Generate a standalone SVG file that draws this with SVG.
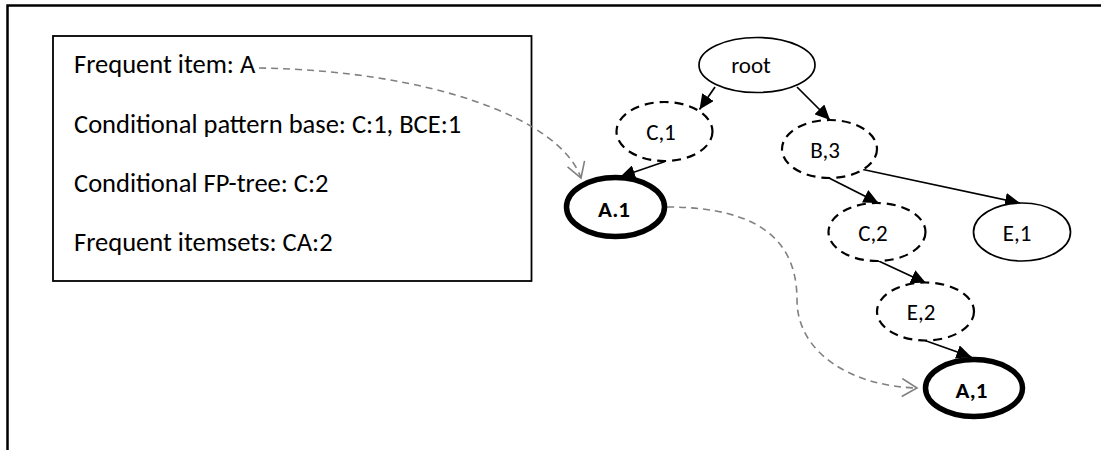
<svg xmlns="http://www.w3.org/2000/svg" width="1101" height="450" viewBox="0 0 1101 450">
<style>
text{font-family:"Carlito","Liberation Sans",Arial,sans-serif;fill:#000}
.info{font-size:26.5px}
.lbl{font-size:23px;text-anchor:middle}
.bold{font-weight:bold}
.nd{fill:#fff;stroke:#000;stroke-width:1.7}
.dash{stroke-width:2.2;stroke-dasharray:9 6}
.thick{stroke-width:5.5}
.edge{fill:none;stroke:#000;stroke-width:1.7;marker-end:url(#ah)}
.link{fill:none;stroke:#808080;stroke-width:1.6;stroke-dasharray:7 5;marker-end:url(#oh)}
</style>
<defs>
<marker id="ah" markerUnits="userSpaceOnUse" markerWidth="16" markerHeight="14" refX="15" refY="7" orient="auto">
<path d="M0,0 L15,7 L0,14 Z" fill="#000"/>
</marker>
<marker id="oh" markerUnits="userSpaceOnUse" markerWidth="18" markerHeight="20" refX="16" refY="10" orient="auto">
<path d="M1,1 L16,10 L1,19" fill="none" stroke="#808080" stroke-width="1.6"/>
</marker>
</defs>
<rect width="1101" height="450" fill="#fff"/>
<path d="M7.5,450 L7.5,5.5 L1101,5.5" fill="none" stroke="#000" stroke-width="2.5"/>
<g id="info">
<rect x="53" y="36" width="478.5" height="245" fill="#fff" stroke="#000" stroke-width="1.8"/>
<text class="info" x="74" y="73">Frequent item: A</text>
<text class="info" x="74" y="132.5">Conditional pattern base: C:1, BCE:1</text>
<text class="info" x="74" y="192">Conditional FP-tree: C:2</text>
<text class="info" x="74" y="251">Frequent itemsets: CA:2</text>
</g>
<g id="connectors">
<path class="edge" d="M715,87 L699.5,109.5"/>
<path class="edge" d="M797,87 L830,120"/>
<path class="edge" d="M665,161.5 L620,177"/>
<path class="edge" d="M828,177.5 L878.5,203"/>
<path class="edge" d="M863,169.5 L1020,203"/>
<path class="edge" d="M876.5,260 L926,283"/>
<path class="edge" d="M925,340.5 L971.5,357"/>
<path class="link" d="M259,68 C430,71 560,118 581,178"/>
<path class="link" d="M667,207 C765,207 797,245 797,300 C797,352 850,386 917,388"/>
</g>
<g id="node-root">
<ellipse class="nd" cx="757" cy="65" rx="58" ry="27.5"/>
<text class="lbl" x="751" y="73">root</text>
</g>
<g id="node-c1">
<ellipse class="nd dash" cx="664.5" cy="131.5" rx="48" ry="29.5"/>
<text class="lbl" x="661" y="140">C,1</text>
</g>
<g id="node-b3">
<ellipse class="nd dash" cx="829.5" cy="149" rx="47.5" ry="29"/>
<text class="lbl" x="825" y="157.5">B,3</text>
</g>
<g id="node-a1-left">
<ellipse class="nd thick" cx="615.5" cy="207" rx="49" ry="29.5"/>
<text class="lbl bold" x="614" y="217">A.1</text>
</g>
<g id="node-c2">
<ellipse class="nd dash" cx="877" cy="232" rx="48.5" ry="29"/>
<text class="lbl" x="873" y="240.5">C,2</text>
</g>
<g id="node-e1">
<ellipse class="nd" cx="1022" cy="232" rx="48.5" ry="29"/>
<text class="lbl" x="1017" y="240.5">E,1</text>
</g>
<g id="node-e2">
<ellipse class="nd dash" cx="925.5" cy="311.5" rx="48.5" ry="29"/>
<text class="lbl" x="921" y="320">E,2</text>
</g>
<g id="node-a1-right">
<ellipse class="nd thick" cx="974" cy="388" rx="48.5" ry="28.5"/>
<text class="lbl bold" x="971.5" y="398">A,1</text>
</g>
</svg>
